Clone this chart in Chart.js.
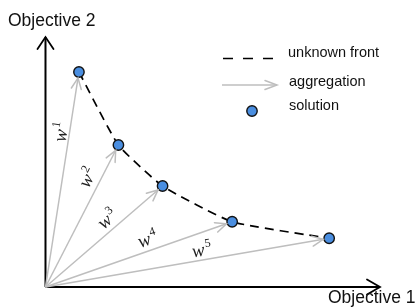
<!DOCTYPE html>
<html>
<head>
<meta charset="utf-8">
<script src="https://cdn.jsdelivr.net/npm/chart.js@4.4.1/dist/chart.umd.min.js"></script>
<style>
  html, body { margin: 0; padding: 0; background: #fff; }
  #wrap { width: 417px; height: 308px; }
</style>
</head>
<body>
<div id="wrap"><canvas id="chart" width="417" height="308"></canvas></div>
<script>
// solutions on the front (objective units)
const objective1 = [1.0, 2.18, 3.5, 5.58, 8.48];
const objective2 = [8.6, 5.68, 4.04, 2.61, 1.95];
const weightNames = ["1", "2", "3", "4", "5"];
const axisEnd = [10, 10];
const legendNames = ["unknown front", "aggregation", "solution"];
const axisTitles = ["Objective 1", "Objective 2"];

const blue = "rgb(74,142,224)";
const grey = "rgb(190,190,190)";

const solutions = objective1.map((x, i) => ({ x: x, y: objective2[i] }));

// one shaft per weight vector, from origin to solution
const arrowSets = solutions.map(p => ({
    data: [{ x: 0, y: 0 }, p],
    borderColor: grey,
    borderWidth: 1.5,
    pointRadius: 0,
    showLine: true,
    order: 3
}));

const axisSets = [
    { data: [{ x: 0, y: 0 }, { x: axisEnd[0], y: 0 }] },
    { data: [{ x: 0, y: 0 }, { x: 0, y: axisEnd[1] }] }
].map(d => Object.assign(d, {
    borderColor: "#000", borderWidth: 2, pointRadius: 0, showLine: true, order: 4
}));

function arrowHead(ctx, fx, fy, tx, ty, back, len, half, color, width) {
    const a = Math.atan2(ty - fy, tx - fx);
    const x = tx - Math.cos(a) * back, y = ty - Math.sin(a) * back;
    ctx.save();
    ctx.strokeStyle = color;
    ctx.lineWidth = width;
    ctx.lineCap = "round";
    ctx.beginPath();
    ctx.moveTo(x - Math.cos(a) * len - Math.sin(a) * half, y - Math.sin(a) * len + Math.cos(a) * half);
    ctx.lineTo(x, y);
    ctx.lineTo(x - Math.cos(a) * len + Math.sin(a) * half, y - Math.sin(a) * len - Math.cos(a) * half);
    ctx.stroke();
    ctx.restore();
}

// where the w labels sit along each arrow (fraction, px offset)
const labelAt = [[0.714, 7.5], [0.73, 11.5], [0.59, 10], [0.567, 10.5], [0.557, 9]];

const decorations = {
    id: "decorations",
    afterDatasetsDraw(chart) {
        const ctx = chart.ctx;
        const sx = chart.scales.x, sy = chart.scales.y;
        const ox = sx.getPixelForValue(0), oy = sy.getPixelForValue(0);

        // axis heads
        arrowHead(ctx, ox, oy, sx.getPixelForValue(axisEnd[0]), oy, 0, 13, 7.5, "#000", 1.8);
        arrowHead(ctx, ox, oy, ox, sy.getPixelForValue(axisEnd[1]), 0, 12, 8, "#000", 1.8);

        solutions.forEach((p, i) => {
            const px = sx.getPixelForValue(p.x), py = sy.getPixelForValue(p.y);
            arrowHead(ctx, ox, oy, px, py, 6, 11, 5, grey, 1.5);

            // w^i label along the arrow
            const a = Math.atan2(py - oy, px - ox);
            const t = labelAt[i][0], off = labelAt[i][1];
            const cx = ox + (px - ox) * t + Math.sin(a) * off;
            const cy = oy + (py - oy) * t - Math.cos(a) * off;
            ctx.save();
            ctx.translate(cx, cy);
            ctx.rotate(a);
            ctx.fillStyle = "#222";
            ctx.textBaseline = "alphabetic";
            ctx.font = 'italic 19px "Liberation Serif"';
            const ww = ctx.measureText("w").width;
            ctx.font = '12px "Liberation Serif"';
            const sw = ctx.measureText(weightNames[i]).width;
            const start = -(ww + sw + 1) / 2;
            ctx.font = 'italic 19px "Liberation Serif"';
            ctx.fillText("w", start, 5);
            ctx.font = '12px "Liberation Serif"';
            ctx.fillText(weightNames[i], start + ww + 1, -3);
            ctx.restore();
        });

        // axis titles
        ctx.save();
        ctx.fillStyle = "#111";
        ctx.font = '17.5px "Liberation Sans"';
        ctx.textBaseline = "middle";
        ctx.fillText(axisTitles[1], 8, 21);
        ctx.fillText(axisTitles[0], 328, 298);

        // legend
        ctx.font = '14.5px "Liberation Sans"';
        ctx.fillStyle = "#111";
        ctx.fillText(legendNames[0], 288, 53);
        ctx.fillText(legendNames[1], 289, 82);
        ctx.fillText(legendNames[2], 289, 106);

        ctx.strokeStyle = "#000";
        ctx.lineWidth = 1.6;
        ctx.setLineDash([10, 10]);
        ctx.beginPath();
        ctx.moveTo(223, 58.5);
        ctx.lineTo(274, 58.5);
        ctx.stroke();
        ctx.setLineDash([]);

        ctx.strokeStyle = grey;
        ctx.lineWidth = 1.5;
        ctx.beginPath();
        ctx.moveTo(222, 85);
        ctx.lineTo(277, 85);
        ctx.stroke();
        arrowHead(ctx, 222, 85, 277, 85, 0, 12, 4.5, grey, 1.5);

        ctx.beginPath();
        ctx.arc(252, 111, 5.2, 0, Math.PI * 2);
        ctx.fillStyle = blue;
        ctx.fill();
        ctx.lineWidth = 1.4;
        ctx.strokeStyle = "#111";
        ctx.stroke();
        ctx.restore();
    }
};

new Chart(document.getElementById("chart"), {
    type: "scatter",
    data: {
        datasets: [
            ...axisSets,
            ...arrowSets,
            {
                data: solutions,
                showLine: true,
                borderColor: "#000",
                borderWidth: 1.7,
                borderDash: [9, 6],
                tension: 0.15,
                pointRadius: 0,
                order: 2
            },
            {
                data: solutions,
                showLine: false,
                pointRadius: 5.2,
                pointBackgroundColor: blue,
                pointBorderColor: "#111",
                pointBorderWidth: 1.4,
                order: 1
            }
        ]
    },
    options: {
        responsive: false,
        animation: false,
        layout: { padding: 0, autoPadding: false },
        plugins: { legend: { display: false }, tooltip: { enabled: false } },
        scales: {
            x: { display: false, min: -1.36, max: 11.106 },
            y: { display: false, min: -0.84, max: 11.48 }
        }
    },
    plugins: [decorations]
});
</script>
</body>
</html>
